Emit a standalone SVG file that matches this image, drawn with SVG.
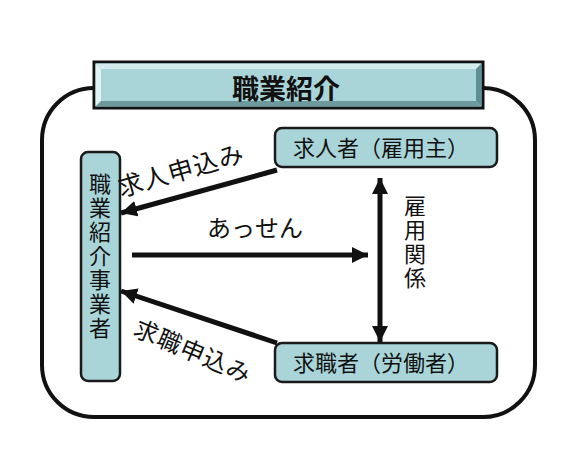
<svg xmlns="http://www.w3.org/2000/svg" width="565" height="457" viewBox="0 0 565 457">
<style>
text{font-family:"Noto Sans CJK JP","Noto Sans",sans-serif;fill:#111}
.node{fill:#a9d5d9;stroke:#1a1a1a;stroke-width:2.5}
.lbl{font-size:22px}
.vert{font-size:22px;writing-mode:vertical-rl;letter-spacing:2px}
.edge{stroke:#111;stroke-width:5;fill:none}
</style>
<defs>
<marker id="ah" markerUnits="userSpaceOnUse" markerWidth="20" markerHeight="20" refX="16" refY="8" orient="auto">
<path d="M0,0 L16,8 L0,16 Z" fill="#111"/>
</marker>
</defs>
<rect width="565" height="457" fill="#fff"/>
<rect x="42" y="88" width="493" height="329" rx="52" fill="none" stroke="#111" stroke-width="4"/>
<g id="title">
<rect x="94" y="62" width="389" height="46" fill="#a9d5d9" stroke="#111" stroke-width="3"/>
<polygon points="95.5,63.5 481.5,63.5 476,69 101,69" fill="#d4ecee"/>
<polygon points="95.5,63.5 101,69 101,101 95.5,106.5" fill="#e0f2f3"/>
<polygon points="481.5,63.5 481.5,106.5 476,101 476,69" fill="#5f8f93"/>
<polygon points="95.5,106.5 481.5,106.5 476,101 101,101" fill="#6f9a9d"/>
<text x="286" y="99" font-size="27" font-weight="bold" text-anchor="middle">職業紹介</text>
</g>
<g id="agency">
<rect class="node" x="81" y="152" width="39" height="229" rx="7"/>
<text class="vert" x="100" y="173">職業紹介事業者</text>
</g>
<g id="employer">
<rect class="node" x="275" y="128" width="222" height="39" rx="7"/>
<text class="lbl" x="381" y="156" text-anchor="middle">求人者（雇用主）</text>
</g>
<g id="worker">
<rect class="node" x="275" y="343" width="222" height="39" rx="7"/>
<text class="lbl" x="381" y="371" text-anchor="middle">求職者（労働者）</text>
</g>
<g id="connectors">
<line class="edge" x1="277" y1="170" x2="121" y2="213" marker-end="url(#ah)"/>
<line class="edge" x1="277" y1="343" x2="121" y2="291" marker-end="url(#ah)"/>
<line class="edge" x1="132" y1="255" x2="368" y2="255" stroke-width="4" marker-end="url(#ah)"/>
<line class="edge" x1="380" y1="260" x2="380" y2="178" stroke-width="4" marker-end="url(#ah)"/>
<line class="edge" x1="380" y1="260" x2="380" y2="342" stroke-width="4" marker-end="url(#ah)"/>
<text font-size="25" letter-spacing="1" transform="translate(121,197) rotate(-16)">求人申込み</text>
<text font-size="24" letter-spacing="1" transform="translate(132,335) rotate(23)">求職申込み</text>
<text x="255" y="237" font-size="24" text-anchor="middle">あっせん</text>
<text class="vert" x="415" y="195" letter-spacing="5">雇用関係</text>
</g>
</svg>
